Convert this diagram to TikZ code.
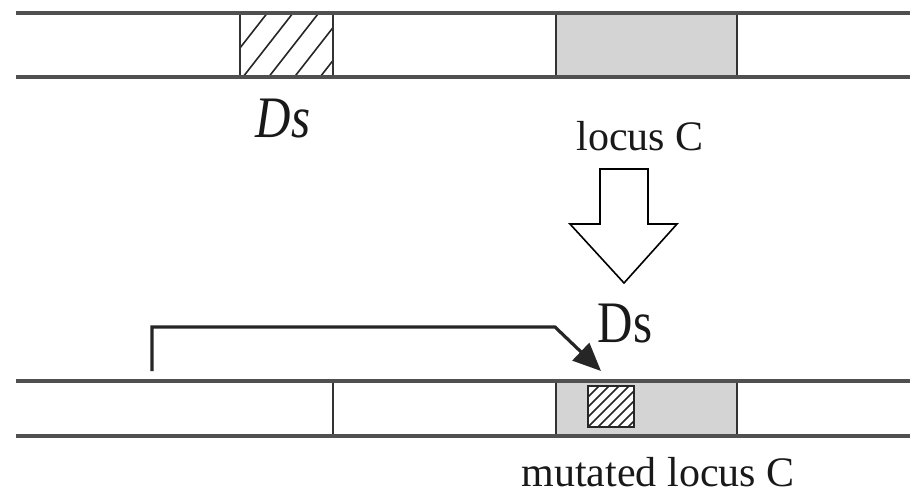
\documentclass[tikz,border=0pt]{standalone}
\usepackage{fontspec}
\setmainfont{Liberation Serif}
\usetikzlibrary{arrows.meta}
\definecolor{strandc}{RGB}{80,80,80}
\definecolor{locusgray}{RGB}{212,212,212}
\tikzset{
  strand/.style={draw=strandc,line width=3.5pt},
  divider/.style={draw=black!80,line width=2.4pt},
  hatchline/.style={draw=black!85,line width=1.6pt},
  lbl/.style={inner sep=0pt,anchor=base,text=black!90},
  blockarrow/.style={draw=black,line width=1.6pt,fill=white,line join=miter},
  insarrow/.style={draw=black!85,line width=3.2pt,-{Triangle[length=28pt,width=24pt]}}
}
\begin{document}
\begin{tikzpicture}[x=1pt,y=-1pt]
\useasboundingbox (0,0) rectangle (910,501);
% ---------- top strand ----------
\fill[locusgray] (556,13) rectangle (737,77);
\begin{scope}
  \clip (240,13) rectangle (333,77);
  \foreach \k in {-3,...,5}{
    \draw[hatchline] ({243+25.7*\k},77) -- ({293+25.7*\k},13);
  }
\end{scope}
\draw[divider] (240,13) -- (240,77);
\draw[divider] (333,13) -- (333,77);
\draw[divider] (556,13) -- (556,77);
\draw[divider] (737,13) -- (737,77);
\draw[strand] (16,13) -- (910,13);
\draw[strand] (16,77) -- (910,77);
\node[lbl,font=\fontsize{49}{55}\selectfont\itshape,yscale=1.2] (dstop) at (283,137) {Ds};
\node[lbl,font=\fontsize{42}{50}\selectfont] (locus) at (640,150) {locus C};
% ---------- block arrow ----------
\draw[blockarrow] (600,169) -- (648,169) -- (648,224) -- (677,224) -- (624,283)
  -- (570,224) -- (600,224) -- cycle;
\node[lbl,font=\fontsize{49}{55}\selectfont,yscale=1.2] (dsbot) at (625,342) {Ds};
% ---------- bottom strand ----------
\fill[locusgray] (556,381) rectangle (737,436);
\fill[white] (588,386) rectangle (634,427);
\begin{scope}
  \clip (588,386) rectangle (634,427);
  \foreach \k in {-5,...,5}{
    \draw[draw=black!85,line width=1.5pt] ({588+10*\k},427) -- ({629+10*\k},386);
  }
\end{scope}
\draw[draw=black!85,line width=1.8pt] (588,386) rectangle (634,427);
\draw[divider] (333,381) -- (333,436);
\draw[divider] (556,381) -- (556,436);
\draw[divider] (737,381) -- (737,436);
\draw[strand] (16,381) -- (910,381);
\draw[strand] (16,436) -- (910,436);
\node[lbl,font=\fontsize{42}{50}\selectfont] (mut) at (658,486) {mutated locus C};
% ---------- insertion arrow ----------
\coordinate (src) at (152,371);
\coordinate (b1) at (152,327);
\coordinate (b2) at (555,327);
\coordinate (tip) at (601,371);
\draw[insarrow] (src) -- (b1) -- (b2) -- (tip);
\end{tikzpicture}
\end{document}
